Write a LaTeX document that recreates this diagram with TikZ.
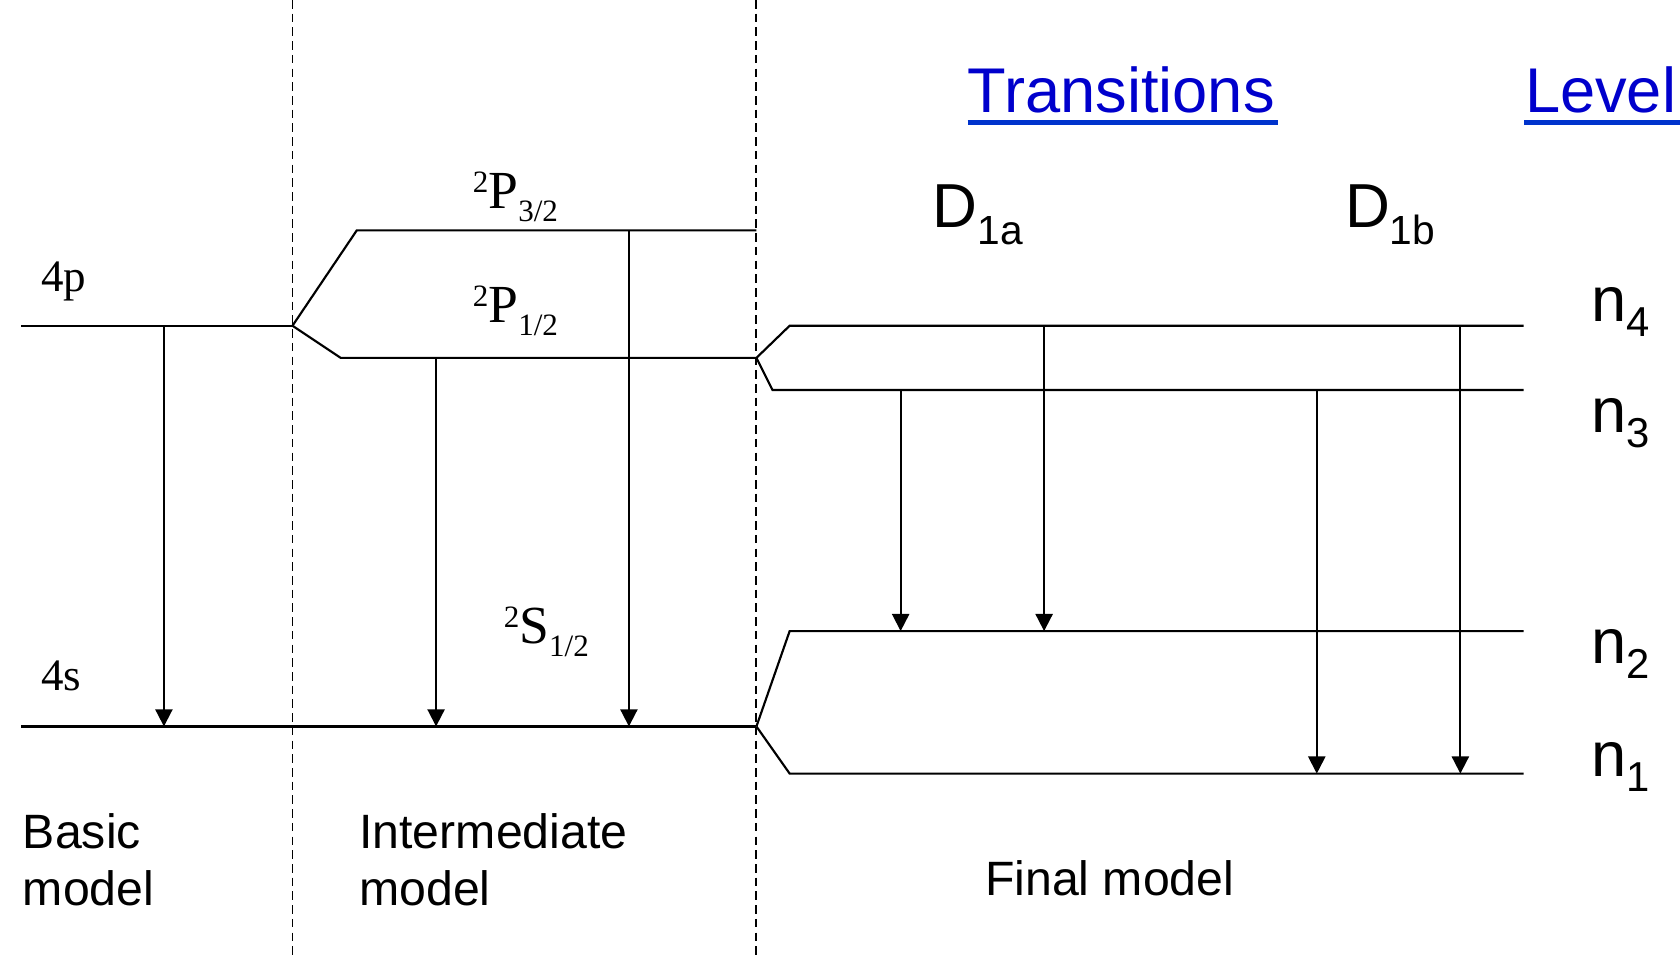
\documentclass[tikz,border=0pt]{standalone}
\usepackage{fontspec}
\setmainfont{Liberation Serif}
\setsansfont{Liberation Sans}
\usetikzlibrary{arrows.meta}
\definecolor{linkblue}{RGB}{0,0,204}
\definecolor{lineblue}{RGB}{0,51,204}
\newcommand{\lowtxt}[3]{\raisebox{-#1}{\fontsize{#2}{#2}\selectfont #3}}
\newcommand{\hightxt}[3]{\raisebox{#1}{\fontsize{#2}{#2}\selectfont #3}}
\tikzset{
  lvl/.style={line width=1pt},
  divider/.style={line width=0.9pt, dash pattern=on 4pt off 2.4pt},
  decay/.style={line width=0.9pt, -{Triangle[width=8pt,length=8pt]}},
  orbital/.style={inner sep=0pt, anchor=base west, font=\rmfamily\fontsize{21}{25}\selectfont},
  term/.style={inner sep=0pt, anchor=base west, font=\rmfamily\fontsize{25}{30}\selectfont},
  model/.style={inner sep=0pt, anchor=base west, align=left, font=\sffamily\fontsize{22.5}{26.5}\selectfont},
  linelab/.style={inner sep=0pt, anchor=base west, font=\sffamily\fontsize{29}{34}\selectfont},
  levlab/.style={inner sep=0pt, anchor=base west, font=\sffamily\fontsize{29.5}{35}\selectfont},
  heading/.style={inner sep=0pt, anchor=base west, text=linkblue, font=\sffamily\fontsize{29.5}{35}\selectfont},
  uline/.style={draw=lineblue, line width=2.4pt}
}
\begin{document}
\begin{tikzpicture}[x=0.5pt, y=-0.5pt]
\useasboundingbox (0,0) rectangle (1568,891);
% section dividers
\coordinate (d1top) at (273,0);
\coordinate (d1bot) at (273,891);
\coordinate (d2top) at (706,0);
\coordinate (d2bot) at (706,891);
\draw[divider] (d1top) -- (d1bot);
\draw[divider] (d2top) -- (d2bot);
% basic model
\coordinate (b4p) at (20,304);
\coordinate (b4s) at (20,678);
\coordinate (split1) at (273,304);
\coordinate (split2) at (706,678);
\draw[lvl] (b4p) -- (split1);
\draw[lvl] (b4s) -- (split2);
% intermediate model
\coordinate (split3) at (706,334);
\draw[lvl] (split1) -- (333,215) -- (706,215);
\draw[lvl] (split1) -- (318,334) -- (split3);
% final model
\coordinate (n4end) at (1422,304);
\coordinate (n3end) at (1422,364);
\coordinate (n2end) at (1422,589);
\coordinate (n1end) at (1422,722);
\draw[lvl] (split3) -- (737,304) -- (n4end);
\draw[lvl] (split3) -- (721,364) -- (n3end);
\draw[lvl] (split2) -- (737,589) -- (n2end);
\draw[lvl] (split2) -- (737,722) -- (n1end);
% transitions
\foreach \name/\x/\ya/\yb in {bas/153/304/678, pa/407/334/678, pb/587/215/678,
  aa/840.6/364/589, ab/974.5/304/589, ba/1229/364/722, bb/1363/304/722}{
  \coordinate (\name top) at (\x,\ya);
  \coordinate (\name bot) at (\x,\yb);
  \draw[decay] (\name top) -- (\name bot);
}
% labels
\node[orbital] (l4p) at (38,272) {4p};
\node[orbital] (l4s) at (38,644) {4s};
\node[term] (p32) at (441,194.4) {\hightxt{7.2pt}{14.5}{2}P\lowtxt{6pt}{14.5}{3/2}};
\node[term] (p12) at (441,300.8) {\hightxt{7.2pt}{14.5}{2}P\lowtxt{6pt}{14.5}{1/2}};
\node[term] (s12) at (469.8,600.4) {\hightxt{7.2pt}{14.5}{2}S\lowtxt{6pt}{14.5}{1/2}};
\node[linelab] (d1a) at (870,212) {D\lowtxt{8pt}{19}{1a}};
\node[linelab] (d1b) at (1255,212) {D\lowtxt{8pt}{19}{1b}};
\node[heading] (trans) at (903,104.6) {Transitions};
\node[heading] (level) at (1423,104.6) {Level};
\draw[uline] (903,114.5) -- (1193,114.5);
\draw[uline] (1422.6,114.5) -- (1568,114.5);
\node[levlab] (n4) at (1485,300) {n\lowtxt{7pt}{19.5}{4}};
\node[levlab] (n3) at (1485,404) {n\lowtxt{7pt}{19.5}{3}};
\node[levlab] (n2) at (1485,619) {n\lowtxt{7pt}{19.5}{2}};
\node[levlab] (n1) at (1485,725) {n\lowtxt{7pt}{19.5}{1}};
\node[model] (basic) at (21,845) {Basic\\model};
\node[model] (inter) at (335,845) {Intermediate\\model};
\node[model] (final) at (919,835.4) {Final model};
\end{tikzpicture}
\end{document}
